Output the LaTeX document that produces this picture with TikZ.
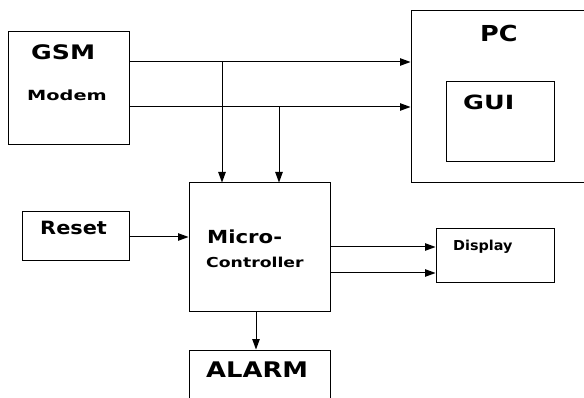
\documentclass[tikz,border=0pt]{standalone}
\usepackage{fontspec}
\setmainfont{DejaVu Sans}
\usetikzlibrary{arrows.meta}
\newcommand{\lbl}[3]{\fontsize{#1}{#1}\selectfont\bfseries\scalebox{#2}[1]{#3}}
\tikzset{
  blk/.style={draw, line width=1pt, inner sep=0pt, rectangle},
  txt/.style={inner sep=0pt, anchor=base west},
  conn/.style={line width=1pt},
  arr/.style={line width=1pt, -{Triangle[length=10.5pt,width=7.5pt]}}
}
\begin{document}
\begin{tikzpicture}[x=1pt,y=-1pt]
\useasboundingbox (0,0) rectangle (584,398);
\clip (0,0) rectangle (584,398);
% boxes
\node[blk, minimum width=121pt, minimum height=113pt] (gsm) at (68.5,88.5) {};
\node[blk, minimum width=180pt, minimum height=172pt] (pc) at (501,97) {};
\node[blk, minimum width=108pt, minimum height=80pt] (gui) at (500,122) {};
\node[blk, minimum width=141pt, minimum height=128pt] (mc) at (259.5,247) {};
\node[blk, minimum width=107pt, minimum height=49pt] (reset) at (75.5,236.5) {};
\node[blk, minimum width=141pt, minimum height=56pt] (alarm) at (259.5,378) {};
\node[blk, minimum width=118pt, minimum height=54pt] (disp) at (495,256) {};
% texts
\node[txt] (tgsm) at (31,60) {\lbl{20}{1.26}{GSM}};
\node[txt] (tmodem) at (27,101) {\lbl{14}{1.38}{Modem}};
\node[txt] (tpc) at (480,42) {\lbl{22}{1.16}{PC}};
\node[txt] (tgui) at (463,110) {\lbl{19.6}{1.3}{GUI}};
\node[txt] (treset) at (40,235) {\lbl{18.3}{1.14}{Reset}};
\node[txt] (tmicro) at (207,244) {\lbl{18}{1.18}{Micro-}};
\node[txt] (tctrl) at (206,268) {\lbl{13.7}{1.26}{Controller}};
\node[txt] (talarm) at (206,377) {\lbl{21.5}{1.2}{ALARM}};
\node[txt] (tdisp) at (453,251) {\lbl{13.7}{1.05}{Display}};
% connector levels
\coordinate (y1) at (0,62);
\coordinate (y2) at (0,107);
\coordinate (j1) at (222,62);
\coordinate (j2) at (279,107);
\coordinate (y3) at (0,237);
\coordinate (y4) at (0,247);
\coordinate (y5) at (0,273);
\coordinate (x6) at (256,0);
% connectors
\draw[arr] (gsm.east |- y1) -- (pc.west |- y1);
\draw[arr] (gsm.east |- y2) -- (pc.west |- y2);
\draw[arr] (j1) -- (mc.north -| j1);
\draw[arr] (j2) -- (mc.north -| j2);
\draw[arr] (reset.east |- y3) -- (mc.west |- y3);
\draw[arr] (mc.east |- y4) -- (disp.west |- y4);
\draw[arr] (mc.east |- y5) -- (disp.west |- y5);
\draw[arr] (mc.south -| x6) -- (alarm.north -| x6);
\end{tikzpicture}
\end{document}
